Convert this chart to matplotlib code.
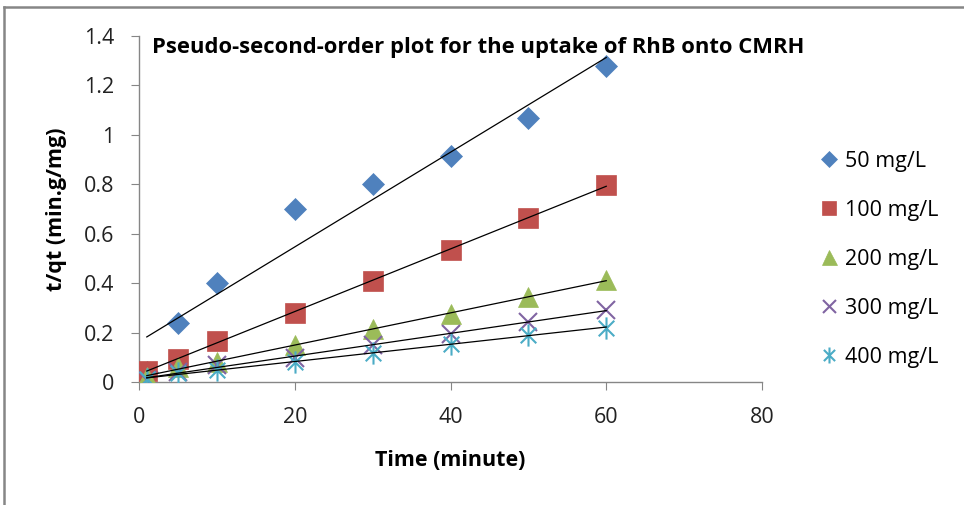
import matplotlib
matplotlib.use("Agg")
import matplotlib.pyplot as plt
import numpy as np
from matplotlib.path import Path
from matplotlib.lines import Line2D

plt.rcParams["font.family"] = ["Open Sans", "DejaVu Sans"]

time_min = [1, 5, 10, 20, 30, 40, 50, 60]
series_labels = ["50 mg/L", "100 mg/L", "200 mg/L", "300 mg/L", "400 mg/L"]
tq_50 = [0.04, 0.24, 0.40, 0.70, 0.80, 0.915, 1.07, 1.28]
tq_100 = [0.046, 0.092, 0.166, 0.281, 0.41, 0.534, 0.663, 0.798]
tq_200 = [0.02, 0.062, 0.082, 0.15, 0.213, 0.275, 0.345, 0.413]
tq_300 = [0.01, 0.042, 0.069, 0.096, 0.15, 0.194, 0.244, 0.291]
tq_400 = [0.012, 0.035, 0.049, 0.082, 0.116, 0.154, 0.19, 0.22]
x_ticks = [0, 20, 40, 60, 80]
y_ticks = [0, 0.2, 0.4, 0.6, 0.8, 1.0, 1.2, 1.4]
y_ticklabels = ["0", "0.2", "0.4", "0.6", "0.8", "1", "1.2", "1.4"]

# asterisk marker: an x with a vertical bar through it
star = Path(
    [(-0.7, -0.7), (0.7, 0.7), (-0.7, 0.7), (0.7, -0.7), (0, -1), (0, 1)],
    [Path.MOVETO, Path.LINETO, Path.MOVETO, Path.LINETO, Path.MOVETO, Path.LINETO],
)

styles = [
    dict(marker="D", color="#4F81BD", ms=11, filled=True),
    dict(marker="s", color="#C0504D", ms=14, filled=True),
    dict(marker="^", color="#9BBB59", ms=15, filled=True),
    dict(marker="x", color="#8064A2", ms=13, filled=False),
    dict(marker=star, color="#4BACC6", ms=16, filled=False),
]

fig = plt.figure(figsize=(9.64, 5.05), dpi=100)
ax = fig.add_axes([139 / 964, 123 / 505, 623 / 964, 346 / 505])

handles = []
for vals, lab, st in zip([tq_50, tq_100, tq_200, tq_300, tq_400], series_labels, styles):
    if st["filled"]:
        kw = dict(markerfacecolor=st["color"], markeredgecolor=st["color"], markeredgewidth=0.5)
    else:
        kw = dict(markerfacecolor="none", markeredgecolor=st["color"], markeredgewidth=1.5)
    ax.plot(time_min, vals, linestyle="none", marker=st["marker"], markersize=st["ms"],
            zorder=3, **kw)
    # linear trendline
    k, b = np.polyfit(time_min, vals, 1)
    xs = np.array([time_min[0], time_min[-1]])
    ax.plot(xs, k * xs + b, color="black", lw=0.9, zorder=4)
    handles.append(Line2D([], [], linestyle="none", marker=st["marker"],
                          markersize=st["ms"] * 0.72, **kw))

ax.set_xlim(0, 80)
ax.set_ylim(0, 1.4)
ax.set_xticks(x_ticks)
ax.set_yticks(y_ticks)
ax.set_yticklabels(y_ticklabels)
for s in ["top", "right"]:
    ax.spines[s].set_visible(False)
for s in ["left", "bottom"]:
    ax.spines[s].set_color("#868686")
    ax.spines[s].set_linewidth(1.0)
ax.tick_params(axis="both", direction="out", length=6, color="#868686",
               labelsize=15.5, labelcolor="#222222")
ax.tick_params(axis="x", pad=12)
ax.tick_params(axis="y", pad=12)
ax.set_xlabel("Time (minute)", fontsize=15.5, fontweight="bold", labelpad=16)
ax.set_ylabel("t/qt (min.g/mg)", fontsize=15.5, fontweight="bold", labelpad=12)

fig.text(152 / 964, 1 - 53 / 505, "Pseudo-second-order plot for the uptake of RhB onto CMRH",
         fontsize=15.8, fontweight="bold", ha="left", va="baseline")

fig.legend(handles, series_labels, loc="upper left", bbox_to_anchor=(812 / 964, 1 - 142 / 505),
           frameon=False, fontsize=15.5, labelspacing=1.3, handlelength=0.8,
           handletextpad=0.35, borderaxespad=0)

# outer chart border (top and left edges)
fig.add_artist(Line2D([4 / 964, 4 / 964], [0, 1 - 7 / 505], color="#868686", lw=1.8,
                      transform=fig.transFigure))
fig.add_artist(Line2D([4 / 964, 1], [1 - 7 / 505, 1 - 7 / 505], color="#868686", lw=1.8,
                      transform=fig.transFigure))

fig.savefig("out.png", dpi=100, facecolor="white")
